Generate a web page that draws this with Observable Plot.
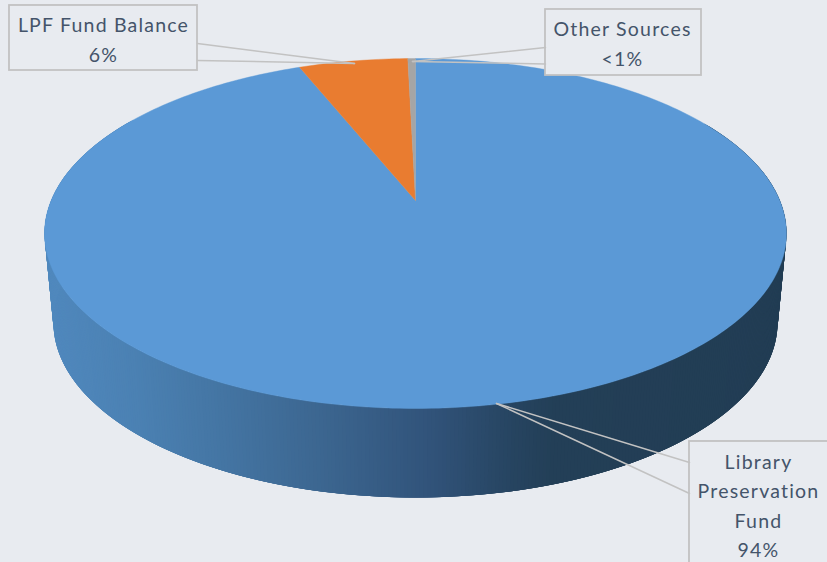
<!DOCTYPE html>
<html>
<head>
<meta charset="utf-8">
<script src="https://cdn.jsdelivr.net/npm/d3@7"></script>
<script src="https://cdn.jsdelivr.net/npm/@observablehq/plot@0.6"></script>
<style>
  html, body { margin: 0; padding: 0; background: #e8ebf0; overflow: hidden; }
</style>
</head>
<body>
<div id="chart"></div>
<script>
// Data (clockwise from 12 o'clock)
const sliceNames  = ["Library Preservation Fund", "LPF Fund Balance", "Other Sources"];
const sliceShares = [93.9, 5.7, 0.4];
const sliceColors = ["#5b99d6", "#e97c30", "#a5a5a5"];

// Callout text
const calloutLines = [
  ["Library", "Preservation", "Fund", "94%"],
  ["LPF Fund Balance", "6%"],
  ["Other Sources", "<1%"]
];

// Pie geometry: a tilted disc seen in perspective, in picture units
const cx = 415, apexY = 200, radius = 364.3, persp = 0.18857, tilt = -131.06;
const wallShrink = 0.976, wallDepth = 89;
const rim = (deg, r = 1) => {
  const t = deg * Math.PI / 180, u = r * Math.sin(t), v = r * Math.cos(t), w = 1 + persp * v;
  return {x: cx + radius * u / w, y: (apexY + tilt * v) / w};
};
const wallPoint = (p) => ({x: cx + (p.x - cx) * wallShrink, y: p.y + wallDepth});

// Slices
let cum = 0;
const slices = sliceShares.map((share, i) => {
  const a0 = cum * 3.6, a1 = (cum + share) * 3.6;
  cum += share;
  const pts = [{x: cx, y: apexY}];
  for (const a of d3.range(a0, a1, 1)) pts.push(rim(a));
  pts.push(rim(a1), {x: cx, y: apexY});
  return {name: sliceNames[i], color: sliceColors[i], pts};
});

// Side wall: overlapping thin quads painted in order, shaded through the colour scale
const wall = [];
for (const a of d3.range(60, 300, 0.5)) {
  const p0 = rim(a), p1 = rim(a + 2);
  const xm = rim(a + 0.25).x;
  [p0, p1, wallPoint(p1), wallPoint(p0), p0].forEach((p) => wall.push({x: p.x, y: p.y, strip: a, shade: xm}));
}

// Callout frames and their pointers
const frames = [
  {x1: 689, x2: 840, y1: 441, y2: 580, tip: [496, 403], base: [[689, 462], [689, 493]], tx: 758, ty: [462, 491.5, 521, 550.5]},
  {x1: 9, x2: 197, y1: 5, y2: 70, tip: [354, 63], base: [[197, 43], [197, 60]], tx: 103, ty: [25, 55]},
  {x1: 545, x2: 701, y1: 9, y2: 75, tip: [412, 61], base: [[545, 47], [545, 63.5]], tx: 622, ty: [29, 59]}
];
const labelRows = frames.flatMap((f, i) => calloutLines[i].map((t, j) => ({t, x: f.tx, y: f.ty[j]})));
const leaderRows = frames.flatMap((f, i) => f.base.flatMap((b, j) => [
  {x: b[0], y: b[1], k: `${i}-${j}`}, {x: f.tip[0], y: f.tip[1], k: `${i}-${j}`}
]));

const bg = "#e8ebf0", edge = "#c2c2c2";

const chart = Plot.plot({
  width: 827, height: 562,
  margin: 0,
  x: {domain: [0, 827], range: [0, 827], axis: null},
  y: {domain: [0, 562], range: [0, 562], axis: null},
  color: {
    type: "linear",
    domain: [45, 130, 220, 320, 430, 515, 555, 790],
    range: ["#5088bd", "#4b81b3", "#4475a3", "#3c6690", "#31537a", "#264460", "#233f57", "#223d54"]
  },
  style: {background: bg, fontFamily: "Lato, Carlito, sans-serif", letterSpacing: "1.2px", overflow: "hidden"},
  marks: [
    Plot.line(wall, {x: "x", y: "y", z: "strip", fill: "shade", stroke: "none", curve: "linear"}),
    ...slices.map((s) => Plot.line(s.pts, {x: "x", y: "y", fill: s.color, stroke: s.color, strokeWidth: 0.4, curve: "linear"})),
    Plot.rect(frames, {x1: "x1", x2: "x2", y1: "y1", y2: "y2", fill: bg, stroke: edge, strokeWidth: 1.8}),
    Plot.line(leaderRows, {x: "x", y: "y", z: "k", stroke: edge, strokeWidth: 1.5}),
    Plot.text(labelRows, {x: "x", y: "y", text: "t", fill: "#44546a", fontSize: 19.5, textAnchor: "middle", lineAnchor: "middle"})
  ]
});
document.getElementById("chart").appendChild(chart);
</script>
</body>
</html>
